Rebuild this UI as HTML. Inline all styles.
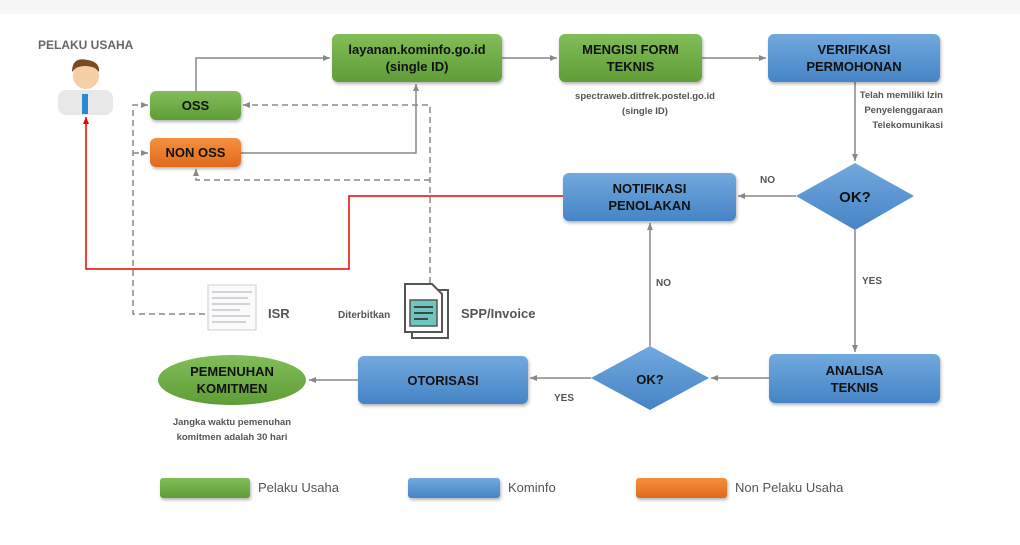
<!DOCTYPE html>
<html><head><meta charset="utf-8"><style>
body{margin:0;width:1020px;height:545px;background:#fff;font-family:"Liberation Sans",sans-serif;overflow:hidden;position:relative}
.b{position:absolute;display:flex;align-items:center;justify-content:center;text-align:center;font-weight:bold;font-size:13px;color:#111;border-radius:6px;box-shadow:1px 2px 3px rgba(0,0,0,.3);line-height:17px}
.g{background:linear-gradient(#82bd58,#5f9d37)}
.bl{background:linear-gradient(#72a9de,#4584c6)}
.o{background:linear-gradient(#f5913f,#e0691a)}
.t{position:absolute;color:#555;font-size:10px;font-weight:bold;line-height:15px}
svg{position:absolute;left:0;top:0}
</style></head><body>
<div style="position:absolute;left:0;top:0;width:1020px;height:14px;background:#f7f7f7"></div>
<svg width="1020" height="545">
<defs>
<marker id="a" markerWidth="8" markerHeight="8" refX="7" refY="4" orient="auto" markerUnits="userSpaceOnUse"><path d="M0,1 L7,4 L0,7z" fill="#888"/></marker>
<marker id="r" markerWidth="8" markerHeight="8" refX="7" refY="4" orient="auto" markerUnits="userSpaceOnUse"><path d="M0,1 L7,4 L0,7z" fill="#e00"/></marker>
</defs>
<g fill="none" stroke="#888" stroke-width="1.5">
<path d="M196,91 V58 H330" marker-end="url(#a)"/>
<path d="M241,153 H416 V84" marker-end="url(#a)"/>
<path d="M502,58 H557" marker-end="url(#a)"/>
<path d="M702,58 H766" marker-end="url(#a)"/>
<path d="M855,82 V161" marker-end="url(#a)"/>
<path d="M796,196 H738" marker-end="url(#a)"/>
<path d="M855,230 V352" marker-end="url(#a)"/>
<path d="M769,378 H711" marker-end="url(#a)"/>
<path d="M650,346 V223" marker-end="url(#a)"/>
<path d="M591,378 H530" marker-end="url(#a)"/>
<path d="M358,380 H309" marker-end="url(#a)"/>
</g>
<g fill="none" stroke="#888" stroke-width="1.5" stroke-dasharray="6,4">
<path d="M430,283 V105 H243" marker-end="url(#a)"/>
<path d="M430,180 H196 V169" marker-end="url(#a)"/>
<path d="M205,314 H133 V105 H148" marker-end="url(#a)"/>
<path d="M133,153 H148" marker-end="url(#a)"/>
</g>
<path d="M563,196 H349 V269 H86 V117" fill="none" stroke="#e00" stroke-width="1.5" marker-end="url(#r)"/>
<defs><linearGradient id="dg" x1="0" y1="0" x2="0" y2="1"><stop offset="0" stop-color="#72a9de"/><stop offset="1" stop-color="#4584c6"/></linearGradient>
<linearGradient id="eg" x1="0" y1="0" x2="0" y2="1"><stop offset="0" stop-color="#82bd58"/><stop offset="1" stop-color="#5f9d37"/></linearGradient></defs>
<path d="M855,163 L914,196 L855,230 L796,196z" fill="url(#dg)"/>
<text x="855" y="202" text-anchor="middle" font-weight="bold" font-size="15" fill="#111" font-family="Liberation Sans">OK?</text>
<path d="M650,346 L709,378 L650,410 L591,378z" fill="url(#dg)"/>
<text x="650" y="384" text-anchor="middle" font-weight="bold" font-size="13" fill="#111" font-family="Liberation Sans">OK?</text>
<ellipse cx="232" cy="380" rx="74" ry="25" fill="url(#eg)"/>
<text x="232" y="376" text-anchor="middle" font-weight="bold" font-size="13" fill="#111" font-family="Liberation Sans">PEMENUHAN</text>
<text x="232" y="393" text-anchor="middle" font-weight="bold" font-size="13" fill="#111" font-family="Liberation Sans">KOMITMEN</text>
<!-- person -->
<rect x="58" y="90" width="55" height="25" rx="8" fill="#e8e8e8"/>
<rect x="82" y="94" width="6" height="20" fill="#2a8ad0"/>
<circle cx="86" cy="76" r="13" fill="#f6cfa8"/>
<path d="M72,72 Q72,56 88,60 Q100,62 99,72 L95,68 Q85,64 76,68z" fill="#7a4a22"/>
<!-- ISR doc -->
<rect x="208" y="285" width="48" height="45" fill="#fafafa" stroke="#ccc"/>
<g stroke="#aab" stroke-width="1"><path d="M212,292H252M212,298H248M212,304H250M212,310H240M212,316H250M212,322H246"/></g>
<!-- SPP icon -->
<rect x="412" y="290" width="36" height="48" fill="#fff" stroke="#555" stroke-width="2"/>
<path d="M405,284 H432 L442,294 V332 H405z" fill="#fff" stroke="#555" stroke-width="2"/>
<rect x="410" y="300" width="27" height="26" fill="#6cc6c0" stroke="#555" stroke-width="1.5"/>
<g stroke="#444" stroke-width="2"><path d="M414,307H433M414,313H433M414,319H428"/></g>
</svg>
<div class="t" style="left:38px;top:38px;font-size:12px;color:#666">PELAKU USAHA</div>
<div class="b g" style="left:150px;top:91px;width:91px;height:29px">OSS</div>
<div class="b o" style="left:150px;top:138px;width:91px;height:29px">NON OSS</div>
<div class="b g" style="left:332px;top:34px;width:170px;height:48px">layanan.kominfo.go.id<br>(single ID)</div>
<div class="b g" style="left:559px;top:34px;width:143px;height:48px">MENGISI FORM<br>TEKNIS</div>
<div class="b bl" style="left:768px;top:34px;width:172px;height:48px">VERIFIKASI<br>PERMOHONAN</div>
<div class="t" style="left:565px;top:89px;width:160px;text-align:center;font-size:9.5px">spectraweb.ditfrek.postel.go.id<br>(single ID)</div>
<div class="t" style="left:840px;top:88px;width:103px;text-align:right;font-size:9.5px">Telah memiliki Izin<br>Penyelenggaraan<br>Telekomunikasi</div>
<div class="b bl" style="left:563px;top:173px;width:173px;height:48px">NOTIFIKASI<br>PENOLAKAN</div>
<div class="t" style="left:760px;top:173px">NO</div>
<div class="t" style="left:862px;top:274px">YES</div>
<div class="t" style="left:656px;top:276px">NO</div>
<div class="t" style="left:554px;top:391px">YES</div>
<div class="b bl" style="left:769px;top:354px;width:171px;height:49px">ANALISA<br>TEKNIS</div>
<div class="b bl" style="left:358px;top:356px;width:170px;height:48px">OTORISASI</div>
<div class="t" style="left:152px;top:415px;width:160px;text-align:center;font-size:9.5px">Jangka waktu pemenuhan<br>komitmen adalah 30 hari</div>
<div class="t" style="left:268px;top:306px;font-size:13px;color:#555">ISR</div>
<div class="t" style="left:338px;top:308px;font-size:10px">Diterbitkan</div>
<div class="t" style="left:461px;top:306px;font-size:13px;color:#555">SPP/Invoice</div>
<div class="b g" style="left:160px;top:478px;width:90px;height:20px;border-radius:3px"></div>
<div class="t" style="left:258px;top:480px;font-size:13px;font-weight:normal">Pelaku Usaha</div>
<div class="b bl" style="left:408px;top:478px;width:92px;height:20px;border-radius:3px"></div>
<div class="t" style="left:508px;top:480px;font-size:13px;font-weight:normal">Kominfo</div>
<div class="b o" style="left:636px;top:478px;width:91px;height:20px;border-radius:3px"></div>
<div class="t" style="left:735px;top:480px;font-size:13px;font-weight:normal">Non Pelaku Usaha</div>
</body></html>
